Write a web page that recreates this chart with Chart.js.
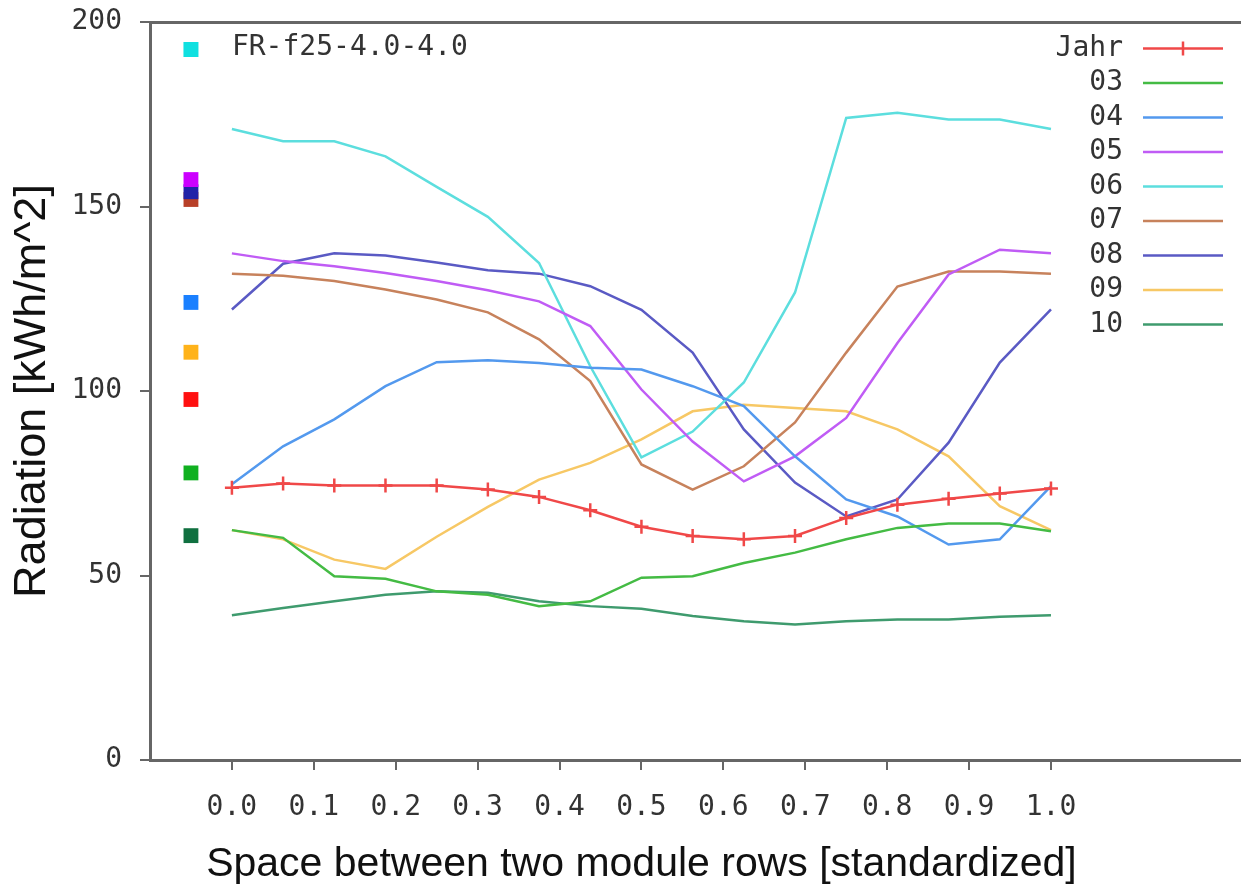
<!DOCTYPE html>
<html>
<head>
<meta charset="utf-8">
<title>Radiation vs module row spacing</title>
<script src="https://cdn.jsdelivr.net/npm/chart.js@4/dist/chart.umd.min.js"></script>
<style>
  body { margin: 0; background: #fff; }
  canvas { display: block; }
</style>
</head>
<body>
<canvas id="radChart" width="1241" height="893"></canvas>
<script>
// x positions of the samples (standardized row spacing)
var xValues = [0, 0.0625, 0.125, 0.1875, 0.25, 0.3125, 0.375, 0.4375, 0.5,
  0.5625, 0.625, 0.6875, 0.75, 0.8125, 0.875, 0.9375, 1];
var xTickValues = [0, 0.1, 0.2, 0.3, 0.4, 0.5, 0.6, 0.7, 0.8, 0.9, 1.0];
var xTickLabels = ['0.0', '0.1', '0.2', '0.3', '0.4', '0.5', '0.6', '0.7', '0.8', '0.9', '1.0'];

var seriesNames = ['Jahr', '03', '04', '05', '06', '07', '08', '09', '10'];
var seriesColors = ['#f04848', '#44bb44', '#5399ee', '#c05cf5', '#5cdede', '#c7825c', '#5a5ac4', '#f7c865', '#3f9b6e'];

var jahr = [73.8, 74.9, 74.4, 74.4, 74.4, 73.3, 71.3, 67.7, 63.2, 60.7, 59.8, 60.7, 65.6, 69.2, 70.8, 72.2, 73.6];
var m03 = [62.3, 60.2, 49.8, 49.1, 45.7, 44.8, 41.7, 43, 49.4, 49.8, 53.4, 56.2, 59.8, 62.9, 64.1, 64.1, 62];
var m04 = [74.7, 85, 92.3, 101.3, 107.8, 108.3, 107.6, 106.3, 105.8, 101.3, 95.9, 82.3, 70.6, 66, 58.4, 59.8, 74.2];
var m05 = [137.3, 135.2, 133.8, 132, 129.8, 127.3, 124.3, 117.6, 100.4, 86.3, 75.5, 82.3, 92.7, 113, 131.6, 138.3, 137.3];
var m06 = [171, 167.7, 167.7, 163.6, 155.3, 147.2, 134.7, 106.7, 82, 89, 102.3, 126.7, 174, 175.4, 173.6, 173.6, 171];
var m07 = [131.8, 131.2, 129.8, 127.5, 124.8, 121.3, 114, 102.7, 80.1, 73.3, 79.6, 91.5, 110.4, 128.3, 132.4, 132.4, 131.8];
var m08 = [122.1, 134.5, 137.3, 136.7, 134.8, 132.7, 131.8, 128.4, 122, 110.4, 89.6, 75.2, 66, 70.6, 86, 107.7, 122.1];
var m09 = [62.3, 59.8, 54.3, 51.8, 60.5, 68.6, 76, 80.5, 86.9, 94.5, 96.3, 95.4, 94.5, 89.6, 82.3, 68.8, 62.3];
var m10 = [39.2, 41.2, 43, 44.8, 45.7, 45.3, 43, 41.7, 41, 39, 37.6, 36.7, 37.6, 38.1, 38.1, 38.8, 39.2];
var seriesValues = [jahr, m03, m04, m05, m06, m07, m08, m09, m10];

// coloured squares left of the curves
var squareX = -0.05;
var squareValues = [151.9, 154, 157.3, 124, 110.5, 97.7, 77.8, 60.8];
var squareColors = ['#b84028', '#2222a8', '#cc00ff', '#1a80ff', '#ffb31a', '#ff1010', '#10b020', '#107040'];

var chartTitle = 'FR-f25-4.0-4.0';
var titleColor = '#10e0e0';
var xTitle = 'Space between two module rows [standardized]';
var yTitle = 'Radiation [kWh/m^2]';

var monoFont = '"DejaVu Sans Mono", monospace';
var axisColor = '#666';

var datasets = seriesValues.map(function (vals, i) {
  var ds = {
    label: seriesNames[i],
    data: xValues.map(function (x, j) { return { x: x, y: vals[j] }; }),
    borderColor: seriesColors[i],
    backgroundColor: seriesColors[i],
    borderWidth: 2.5,
    tension: 0,
    pointRadius: 0,
    order: i === 0 ? 0 : 1
  };
  if (i === 0) {
    ds.pointStyle = 'cross';
    ds.pointRadius = 7;
    ds.pointBorderWidth = 2.5;
  }
  return ds;
});

datasets.push({
  label: 'squares',
  type: 'scatter',
  data: squareValues.map(function (v) { return { x: squareX, y: v }; }),
  pointStyle: 'rect',
  pointRadius: 10.5,
  pointBorderWidth: 0,
  backgroundColor: squareColors,
  borderColor: squareColors
});

// drop the automatic label padding so the plot frame sits where the layout says
function noPad(scale) {
  scale.paddingTop = 0;
  scale.paddingBottom = 0;
  scale.paddingLeft = 0;
  scale.paddingRight = 0;
}

var decorations = {
  id: 'decorations',
  afterDraw: function (chart) {
    var ctx = chart.ctx;
    var xs = chart.scales.x;
    var area = chart.chartArea;
    ctx.save();

    // title with marker
    ctx.fillStyle = titleColor;
    ctx.fillRect(xs.getPixelForValue(squareX) - 7.5, area.top + 20, 15, 15);
    ctx.fillStyle = '#333';
    ctx.font = '28px ' + monoFont;
    ctx.textAlign = 'left';
    ctx.textBaseline = 'middle';
    ctx.fillText(chartTitle, xs.getPixelForValue(0), area.top + 26);

    // legend at the right
    for (var i = 0; i < seriesNames.length; i++) {
      var y = area.top + 26.5 + i * 34.5;
      ctx.fillStyle = '#333';
      ctx.textAlign = 'right';
      ctx.fillText(seriesNames[i], 1123, y);
      ctx.strokeStyle = seriesColors[i];
      ctx.lineWidth = 2.5;
      ctx.beginPath();
      ctx.moveTo(1143, y);
      ctx.lineTo(1223, y);
      ctx.stroke();
      if (i === 0) {
        ctx.beginPath();
        ctx.moveTo(1183, y - 7);
        ctx.lineTo(1183, y + 7);
        ctx.stroke();
      }
    }

    // x axis title, centred under the 0..1 range
    ctx.fillStyle = '#111';
    ctx.font = '41px "Liberation Sans", Arial, sans-serif';
    ctx.textAlign = 'center';
    ctx.fillText(xTitle, xs.getPixelForValue(0.5), 865);
    ctx.restore();
  }
};

new Chart(document.getElementById('radChart').getContext('2d'), {
  type: 'line',
  data: { datasets: datasets },
  options: {
    responsive: false,
    animation: false,
    events: [],
    layout: { autoPadding: false, padding: { top: 22, right: 0, bottom: 0, left: 0 } },
    plugins: {
      legend: { display: false },
      title: { display: false },
      tooltip: { enabled: false }
    },
    scales: {
      x: {
        type: 'linear',
        min: -0.1,
        max: 1.232,
        afterBuildTicks: function (scale) {
          scale.ticks = xTickValues.map(function (v) { return { value: v }; });
        },
        afterFit: function (scale) { scale.height = 133; noPad(scale); },
        ticks: {
          autoSkip: false,
          maxRotation: 0,
          padding: 21,
          color: '#333',
          font: { family: monoFont, size: 28 },
          callback: function (v) {
            var k = xTickValues.indexOf(v);
            return k >= 0 ? xTickLabels[k] : '';
          }
        },
        grid: { drawOnChartArea: false, tickLength: 10, color: axisColor, lineWidth: 2 },
        border: { color: axisColor, width: 3 }
      },
      xTop: {
        type: 'linear',
        position: 'top',
        min: -0.1,
        max: 1.232,
        afterFit: function (scale) { scale.height = 0; noPad(scale); },
        ticks: { display: false },
        grid: { display: false, drawTicks: false },
        border: { color: axisColor, width: 3 }
      },
      y: {
        min: 0,
        max: 200,
        afterFit: function (scale) { scale.width = 150; noPad(scale); },
        ticks: {
          stepSize: 50,
          padding: 18,
          color: '#333',
          font: { family: monoFont, size: 28 }
        },
        grid: { drawOnChartArea: false, tickLength: 10, color: axisColor, lineWidth: 2 },
        border: { color: axisColor, width: 3 },
        title: {
          display: true,
          text: yTitle,
          color: '#111',
          font: { family: '"Liberation Sans", Arial, sans-serif', size: 45 },
          padding: { top: 6, bottom: 0 }
        }
      }
    }
  },
  plugins: [decorations]
});
</script>
</body>
</html>
